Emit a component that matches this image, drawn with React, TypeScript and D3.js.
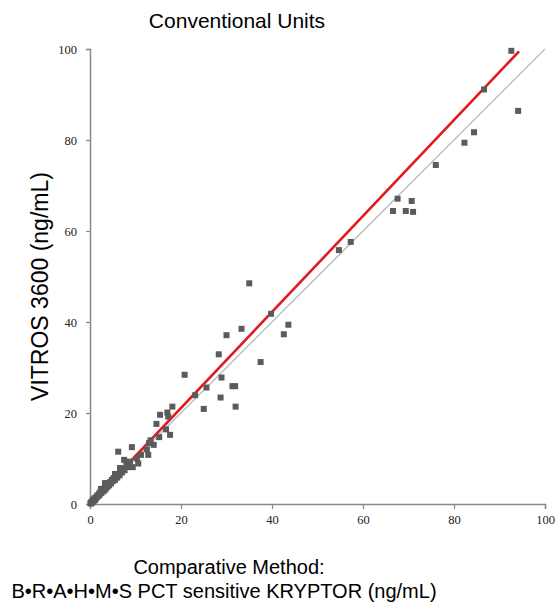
import { useEffect, useRef } from "react";
import * as d3 from "d3";

// Comparative method (x) vs VITROS 3600 (y), ng/mL
const comparative = [
  0.1, 0.2, 0.3, 0.4, 0.5, 0.6, 0.7, 0.8, 0.9, 1.0, 1.1, 1.2, 1.3, 1.5, 1.6, 1.8, 2.0, 2.1, 2.3, 2.4,
  2.5, 2.7, 2.9, 3.0, 3.2, 3.3, 3.4, 3.6, 3.8, 4.0, 4.2, 4.4, 4.6, 4.8, 5.0, 5.2, 5.5, 5.5, 5.7, 6.0,
  6.2, 6.5, 6.6, 6.8, 7.0, 7.3, 7.6, 8.0, 8.3, 8.6, 8.8, 9.4, 10.6, 10.3, 7.5, 9.2, 6.2, 11.2, 12.8, 12.5,
  13.3, 13.0, 14.0, 15.2, 14.6, 16.7, 17.6, 15.4, 17.0, 17.2, 18.1,
  20.8, 23.1, 25.0, 25.6, 28.7, 28.9, 28.3, 30.0, 31.3, 31.9, 32.0, 33.3, 35.0, 37.5, 39.8, 42.6, 43.6,
  54.7, 57.3, 66.6, 67.6, 69.4, 70.7, 71.0, 76.0, 82.3, 84.4, 86.6, 92.6, 94.1,
];
const vitros = [
  0.2, 0.1, 0.4, 0.3, 0.6, 0.5, 0.9, 0.7, 1.0, 1.2, 0.9, 1.4, 1.2, 1.6, 1.9, 1.7, 2.3, 2.0, 2.6, 3.3,
  2.4, 2.9, 3.3, 2.8, 3.5, 4.6, 3.2, 4.0, 3.7, 4.5, 4.1, 4.8, 4.5, 5.3, 5.0, 5.7, 5.3, 6.6, 6.2, 5.8,
  6.6, 6.3, 7.9, 7.3, 6.9, 7.8, 7.4, 8.6, 8.1, 9.0, 9.3, 8.1, 8.9, 10.0, 9.7, 12.5, 11.5, 10.8, 10.8, 12.0,
  14.0, 13.4, 13.0, 14.7, 17.6, 16.4, 15.2, 19.6, 20.1, 19.2, 21.4,
  28.4, 23.9, 20.9, 25.6, 23.4, 27.8, 32.9, 37.1, 25.9, 25.9, 21.4, 38.5, 48.5, 31.2, 41.8, 37.3, 39.4,
  55.8, 57.6, 64.4, 67.1, 64.4, 66.6, 64.2, 74.5, 79.4, 81.7, 91.1, 99.6, 86.4,
];
const ticks = [0, 20, 40, 60, 80, 100];

// fitted regression (red) and line of identity (grey)
const fitSlope = 1.055;
const fitIntercept = 0;
const fitRange = [0, 94.3];
const identityRange = [0, 100];

export default function App() {
  const ref = useRef<SVGSVGElement>(null);

  useEffect(() => {
    const width = 556;
    const height = 605;
    const margin = { top: 49, right: 11, bottom: 101, left: 90 };

    const svg = d3.select(ref.current);
    svg.selectAll("*").remove();
    svg.attr("width", width).attr("height", height);

    const x = d3.scaleLinear().domain([0, 100]).range([margin.left, width - margin.right]);
    const y = d3.scaleLinear().domain([0, 100]).range([height - margin.bottom, margin.top]);

    const axisColor = "#898989";
    const tickFont = "'Liberation Serif', 'Times New Roman', serif";
    const labelFont = "'Liberation Sans', Arial, sans-serif";

    // Axes
    const yAxis = svg.append("g")
      .attr("transform", `translate(${margin.left},0)`)
      .call(d3.axisLeft(y).tickValues(ticks).tickSize(4).tickPadding(9));
    const xAxis = svg.append("g")
      .attr("transform", `translate(0,${height - margin.bottom})`)
      .call(d3.axisBottom(x).tickValues(ticks).tickSize(5).tickPadding(6));

    [xAxis, yAxis].forEach(g => {
      g.select(".domain").attr("stroke", axisColor).attr("stroke-width", 1.5);
      g.selectAll(".tick line").attr("stroke", axisColor).attr("stroke-width", 1.2);
      g.selectAll(".tick text")
        .attr("fill", "#222")
        .style("font-family", tickFont)
        .style("font-size", "12.5px");
    });

    // Identity line
    svg.append("line")
      .attr("x1", x(identityRange[0]))
      .attr("y1", y(identityRange[0]))
      .attr("x2", x(identityRange[1]))
      .attr("y2", y(identityRange[1]))
      .attr("stroke", "#bdbdbd")
      .attr("stroke-width", 1.5);

    // Regression line
    svg.append("line")
      .attr("x1", x(fitRange[0]))
      .attr("y1", y(fitIntercept + fitSlope * fitRange[0]))
      .attr("x2", x(fitRange[1]))
      .attr("y2", y(fitIntercept + fitSlope * fitRange[1]))
      .attr("stroke", "#e31a1c")
      .attr("stroke-width", 2.6);

    // Points
    const data = comparative.map((c, i) => ({ c, v: vitros[i] }));
    const s = 6;
    svg.selectAll("rect.pt")
      .data(data)
      .join("rect")
      .attr("class", "pt")
      .attr("x", d => x(d.c) - s / 2)
      .attr("y", d => y(d.v) - s / 2)
      .attr("width", s)
      .attr("height", s)
      .attr("fill", "#5b5b5b");

    // Title
    svg.append("text")
      .attr("x", 237)
      .attr("y", 28)
      .attr("text-anchor", "middle")
      .style("font-family", labelFont)
      .style("font-size", "21px")
      .text("Conventional Units");

    // Y label
    svg.append("text")
      .attr("transform", `translate(48,${(margin.top + height - margin.bottom) / 2 + 10}) rotate(-90)`)
      .attr("text-anchor", "middle")
      .style("font-family", labelFont)
      .style("font-size", "23px")
      .text("VITROS 3600 (ng/mL)");

    // X label (two lines)
    svg.append("text")
      .attr("x", 229)
      .attr("y", 574)
      .attr("text-anchor", "middle")
      .style("font-family", labelFont)
      .style("font-size", "20px")
      .text("Comparative Method:");
    svg.append("text")
      .attr("x", 224)
      .attr("y", 598)
      .attr("text-anchor", "middle")
      .style("font-family", labelFont)
      .style("font-size", "20px")
      .text("B•R•A•H•M•S PCT sensitive KRYPTOR (ng/mL)");
  }, []);

  return <svg ref={ref} style={{ position: "absolute", left: 0, top: 0 }}></svg>;
}
